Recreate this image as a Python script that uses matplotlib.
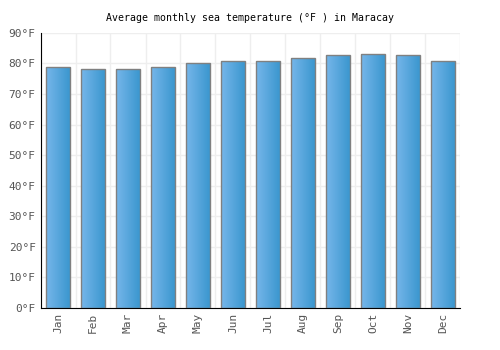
import numpy as np
import matplotlib.pyplot as plt
from matplotlib.colors import LinearSegmentedColormap

months = ["Jan", "Feb", "Mar", "Apr", "May", "Jun",
          "Jul", "Aug", "Sep", "Oct", "Nov", "Dec"]
temps = [78.9, 78.2, 78.2, 78.9, 80.1, 80.7, 80.7, 81.7, 82.7, 83.0, 82.7, 80.7]
yticks = list(range(0, 100, 10))
ytick_labels = [f"{t}°F" for t in yticks]

plt.rcParams["font.family"] = ["DejaVu Sans Mono"]

fig = plt.figure(figsize=(5, 3.5), dpi=100)
ax = fig.add_axes([0.081, 0.12, 0.84, 0.786])

x = np.arange(len(months))
bars = ax.bar(x, temps, width=0.67, facecolor="none", edgecolor="#808080",
              linewidth=1, zorder=3)

# horizontal gradient fill, clipped to each bar
cmap = LinearSegmentedColormap.from_list("bar", ["#76b6ea", "#3b97cf"])
grad = np.linspace(0, 1, 64).reshape(1, -1)
for b in bars:
    bx, by = b.get_x(), b.get_y()
    w, h = b.get_width(), b.get_height()
    im = ax.imshow(grad, cmap=cmap, aspect="auto", extent=[bx, bx + w, by, by + h],
                   zorder=2, interpolation="bilinear")
    im.set_clip_path(b)

ax.set_xlim(-0.5, len(months) - 0.5)
ax.set_ylim(0, 90)
ax.set_xticks(x)
ax.set_xticklabels(months, rotation=90, fontsize=8, color="#555555")
ax.set_yticks(yticks)
ax.set_yticklabels(ytick_labels, fontsize=8, color="#555555")
ax.set_xticks(np.arange(-0.5, len(months), 1), minor=True)
ax.tick_params(axis="both", length=0)
ax.tick_params(axis="x", which="minor", length=0)

ax.grid(True, axis="y", color="#eeeeee", linewidth=1, zorder=0)
ax.grid(True, axis="x", which="minor", color="#eeeeee", linewidth=1, zorder=0)
ax.set_axisbelow(True)

for s in ["top", "right"]:
    ax.spines[s].set_visible(False)
ax.spines["left"].set_color("black")
ax.spines["bottom"].set_color("black")

ax.set_title("Average monthly sea temperature (°F ) in Maracay", fontsize=7.1, pad=8.5)

fig.savefig("out.png", dpi=100)
